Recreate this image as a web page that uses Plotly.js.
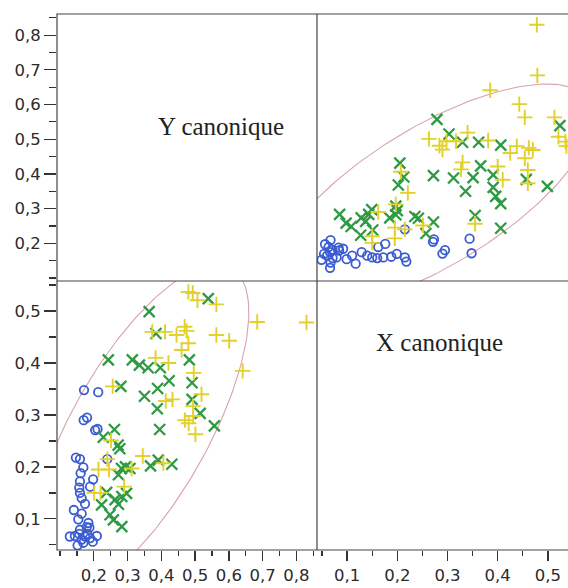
<!DOCTYPE html>
<html>
<head>
<meta charset="utf-8">
<script src="https://cdn.plot.ly/plotly-3.0.1.min.js"></script>
<style>
html,body{margin:0;padding:0;overflow:hidden;background:#fff;}
#chart{width:600px;height:588px;}
</style>
</head>
<body>
<div id="chart"></div>
<script>
// Variable names (diagonal labels)
const varNames = ["Y canonique", "X canonique"];

// Group 1 (blue circles): X canonique / Y canonique
const blueX = [0.348,0.344,0.290,0.295,0.271,0.273,0.218,0.215,0.199,0.215,0.188,0.172,0.160,0.150,0.140,0.129,0.176,0.162,0.117,0.099,0.110,0.092,0.083,
               0.066,0.067,0.071,0.060,0.066,0.071,0.063,0.056,0.067,0.049,0.054,0.079,0.084];
const blueY = [0.171,0.213,0.170,0.180,0.204,0.211,0.147,0.159,0.169,0.240,0.161,0.159,0.157,0.159,0.164,0.174,0.198,0.189,0.141,0.154,0.164,0.184,0.187,
               0.129,0.144,0.157,0.164,0.174,0.181,0.189,0.197,0.209,0.152,0.169,0.159,0.179];

// Group 2 (green crosses x)
const greenX = [0.499,0.457,0.524,0.406,0.406,0.396,0.391,0.391,0.406,0.366,0.351,0.355,0.362,0.336,0.330,0.312,0.303,0.272,0.279,
                0.272,0.257,0.242,0.235,0.213,0.202,0.205,0.200,0.197,0.185,0.197,0.151,0.137,0.143,0.149,0.128,0.127,0.108,0.098,0.085];
const greenY = [0.364,0.384,0.539,0.243,0.314,0.335,0.361,0.397,0.483,0.423,0.389,0.280,0.491,0.350,0.491,0.388,0.515,0.395,0.557,
                0.261,0.228,0.272,0.277,0.391,0.368,0.431,0.294,0.282,0.273,0.307,0.238,0.263,0.283,0.297,0.273,0.223,0.248,0.258,0.283];

// Group 3 (yellow plus)
const yellowX = [0.478,0.479,0.537,0.535,0.521,0.513,0.460,0.460,0.454,0.470,0.462,0.438,0.425,0.454,0.443,0.385,0.410,0.400,0.381,
                 0.327,0.330,0.340,0.317,0.298,0.290,0.284,0.263,0.355,0.251,0.221,0.207,0.195,0.195,0.197,0.150,0.150,0.162,0.215];
const yellowY = [0.830,0.684,0.480,0.493,0.507,0.563,0.373,0.411,0.445,0.469,0.475,0.480,0.460,0.563,0.601,0.641,0.383,0.421,0.496,
                 0.413,0.433,0.519,0.494,0.494,0.470,0.481,0.501,0.256,0.251,0.345,0.406,0.214,0.245,0.312,0.201,0.220,0.290,0.240];

// Confidence ellipse parameters (in X,Y data units): centre X, centre Y, half X extent, slope of conjugate diameter, half vertical width
const ellipseParams = [0.270, 0.335, 0.320, 0.72, 0.228];

// Tick values
const yTicksRow1 = [0.2,0.3,0.4,0.5,0.6,0.7,0.8];
const yTicksRow2 = [0.1,0.2,0.3,0.4,0.5];
const xTicksCol1 = [0.2,0.3,0.4,0.5,0.6,0.7,0.8];
const xTicksCol2 = [0.1,0.2,0.3,0.4,0.5];

// ---------- build ----------
const W = 600, H = 588;
const px = v => v / W;
const py = v => 1 - v / H;

const ellX = [], ellY = [];
for (let k = 0; k <= 180; k++) {
  const t = k * 2 * Math.PI / 180;
  const [cx, cy, hx, s, hw] = ellipseParams;
  ellX.push(cx + hx * Math.cos(t));
  ellY.push(cy + s * hx * Math.cos(t) + hw * Math.sin(t));
}

const blueCol = "#3a5cd0", greenCol = "#2f9a44", yellowCol = "#e2d12c", ellCol = "#d9a2a8";
const mBlue = {symbol: "circle-open", size: 8.5, color: blueCol, line: {width: 1.8, color: blueCol}};
const mGreen = {symbol: "x-thin-open", size: 11, color: greenCol, line: {width: 2.3, color: greenCol}};
const mYellow = {symbol: "cross-thin-open", size: 11, color: yellowCol, line: {width: 1.9, color: yellowCol}};

function panel(xa, ya, swap) {
  const P = (a, b) => swap ? [b, a] : [a, b];
  const out = [];
  const e = P(ellX, ellY);
  out.push({type: "scatter", mode: "lines", x: e[0], y: e[1], xaxis: xa, yaxis: ya,
            line: {color: ellCol, width: 1.1}, hoverinfo: "skip", showlegend: false});
  const b = P(blueX, blueY), g = P(greenX, greenY), y = P(yellowX, yellowY);
  out.push({type: "scatter", mode: "markers", x: b[0], y: b[1], xaxis: xa, yaxis: ya, marker: mBlue, showlegend: false, cliponaxis: true});
  out.push({type: "scatter", mode: "markers", x: g[0], y: g[1], xaxis: xa, yaxis: ya, marker: mGreen, showlegend: false, cliponaxis: true});
  out.push({type: "scatter", mode: "markers", x: y[0], y: y[1], xaxis: xa, yaxis: ya, marker: mYellow, showlegend: false, cliponaxis: true});
  return out;
}

// top-right: x = X canonique (x2), y = Y canonique (y)
// bottom-left: x = Y canonique (x), y = X canonique (y2)
const data = [...panel("x2", "y", false), ...panel("x", "y2", true)];

const tickFont = {family: "DejaVu Sans", size: 16.5, color: "#2b2b2b"};
const axisCommon = {
  showgrid: false, zeroline: false, showline: false,
  ticks: "outside", tickcolor: "#333", tickwidth: 1.3,
  tickfont: tickFont, tickformat: ".1f", fixedrange: true
};
const xRangeCol1 = [0.091, 0.861], xRangeCol2 = [0.04, 0.558];
const yRangeRow1 = [0.091, 0.861], yRangeRow2 = [0.04, 0.558];

const layout = {
  width: W, height: H,
  margin: {l: 0, r: 0, t: 0, b: 0},
  paper_bgcolor: "#fff", plot_bgcolor: "rgba(0,0,0,0)",
  separators: ", ",
  showlegend: false,
  xaxis: Object.assign({}, axisCommon, {
    domain: [px(57), px(317)], range: xRangeCol1, anchor: "y2",
    tickvals: xTicksCol1, ticklen: 10,
    minor: {dtick: 0.05, tick0: 0, ticks: "outside", ticklen: 5, tickcolor: "#333", tickwidth: 1.2}
  }),
  xaxis2: Object.assign({}, axisCommon, {
    domain: [px(317), px(577)], range: xRangeCol2, anchor: "y2",
    tickvals: xTicksCol2, ticklen: 10,
    minor: {dtick: 0.05, tick0: 0, ticks: "outside", ticklen: 5, tickcolor: "#333", tickwidth: 1.2}
  }),
  yaxis: Object.assign({}, axisCommon, {
    domain: [py(281), py(14)], range: yRangeRow1, anchor: "x",
    tickvals: yTicksRow1, ticklen: 12,
    minor: {dtick: 0.05, tick0: 0, ticks: "outside", ticklen: 7, tickcolor: "#333", tickwidth: 1.3}
  }),
  yaxis2: Object.assign({}, axisCommon, {
    domain: [py(550), py(281)], range: yRangeRow2, anchor: "x",
    tickvals: yTicksRow2, ticklen: 12,
    minor: {dtick: 0.05, tick0: 0, ticks: "outside", ticklen: 7, tickcolor: "#333", tickwidth: 1.3}
  }),
  shapes: [
    {type: "rect", xref: "paper", yref: "paper", x0: px(57), x1: px(598), y0: py(550), y1: py(14),
     line: {color: "#444", width: 1.2}, layer: "above"},
    {type: "line", xref: "paper", yref: "paper", x0: px(317), x1: px(317), y0: py(550), y1: py(14),
     line: {color: "#444", width: 1.2}, layer: "above"},
    {type: "line", xref: "paper", yref: "paper", x0: px(57), x1: px(598), y0: py(281), y1: py(281),
     line: {color: "#444", width: 1.2}, layer: "above"}
  ],
  annotations: [
    {text: varNames[0], xref: "paper", yref: "paper", x: px(221), y: py(127), xanchor: "center", yanchor: "middle",
     showarrow: false, font: {family: "Liberation Serif", size: 25, color: "#222"}},
    {text: varNames[1], xref: "paper", yref: "paper", x: px(439), y: py(342), xanchor: "center", yanchor: "middle",
     showarrow: false, font: {family: "Liberation Serif", size: 25, color: "#222"}}
  ]
};

Plotly.newPlot("chart", data, layout, {displayModeBar: false, staticPlot: true});
</script>
</body>
</html>
